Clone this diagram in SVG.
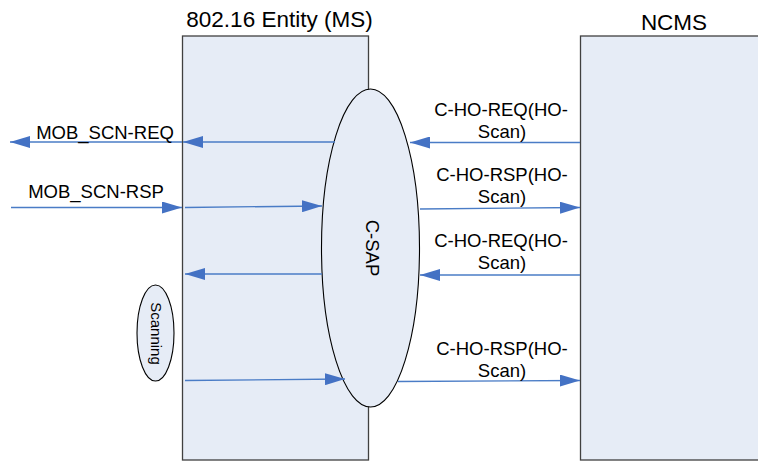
<svg xmlns="http://www.w3.org/2000/svg" width="758" height="461" viewBox="0 0 758 461">
<defs>
<style>
.box{fill:#E6ECF6;stroke:#404040;stroke-width:1.3}
.ell{fill:#E6ECF6;stroke:#000;stroke-width:1.1}
.title{font-family:"Liberation Sans",Arial,sans-serif;font-size:22.5px;fill:#000;text-anchor:middle}
.lbl{font-family:"Liberation Sans",Arial,sans-serif;font-size:18.5px;fill:#000;text-anchor:middle}
.con{stroke:#4A7CC6;stroke-width:1.3;fill:none;marker-end:url(#ah)}
</style>
<marker id="ah" viewBox="0 0 20 12" refX="20" refY="6" markerWidth="20" markerHeight="12" markerUnits="userSpaceOnUse" orient="auto">
<path d="M0,0 L20,6 L0,12 Z" fill="#4472C4"/>
</marker>
</defs>
<rect width="758" height="461" fill="#fff"/>
<g id="ms">
<rect class="box" x="182.5" y="36" width="186" height="424"/>
<text class="title" x="279.5" y="27">802.16 Entity (MS)</text>
</g>
<g id="ncms">
<rect class="box" x="580.5" y="36" width="190" height="424"/>
<text class="title" x="674" y="30">NCMS</text>
</g>
<g id="csap">
<ellipse class="ell" cx="370.5" cy="248" rx="49" ry="159"/>
<text class="lbl" x="0" y="0" transform="translate(372 248) rotate(90)" dominant-baseline="central">C-SAP</text>
</g>
<g id="scanning">
<ellipse class="ell" cx="155.5" cy="333" rx="18.5" ry="48"/>
<text x="0" y="0" transform="translate(156 333.5) rotate(90)" dominant-baseline="central" style="font-family:'Liberation Sans',Arial,sans-serif;font-size:15px;text-anchor:middle">Scanning</text>
</g>
<g id="connectors">
<line class="con" x1="182" y1="142" x2="10" y2="142"/>
<line class="con" x1="335" y1="142" x2="183" y2="142"/>
<line class="con" x1="580" y1="142.5" x2="410" y2="142.5"/>
<line class="con" x1="11" y1="207.5" x2="182" y2="207.5"/>
<line class="con" x1="185" y1="207.5" x2="322" y2="206"/>
<line class="con" x1="420" y1="209" x2="580" y2="207.5"/>
<line class="con" x1="322" y1="274" x2="185" y2="274"/>
<line class="con" x1="580" y1="275" x2="420" y2="275"/>
<line class="con" x1="185" y1="380.5" x2="345" y2="379"/>
<line class="con" x1="398" y1="381.5" x2="580" y2="380.5"/>
</g>
<g id="labels">
<text class="lbl" x="105" y="139">MOB_SCN-REQ</text>
<text class="lbl" x="96" y="198">MOB_SCN-RSP</text>
<text class="lbl" x="501" y="115.5">C-HO-REQ(HO-</text>
<text class="lbl" x="502" y="137.5">Scan)</text>
<text class="lbl" x="502" y="181">C-HO-RSP(HO-</text>
<text class="lbl" x="502" y="203">Scan)</text>
<text class="lbl" x="501" y="247">C-HO-REQ(HO-</text>
<text class="lbl" x="502" y="269">Scan)</text>
<text class="lbl" x="502" y="355">C-HO-RSP(HO-</text>
<text class="lbl" x="502" y="377">Scan)</text>
</g>
</svg>
